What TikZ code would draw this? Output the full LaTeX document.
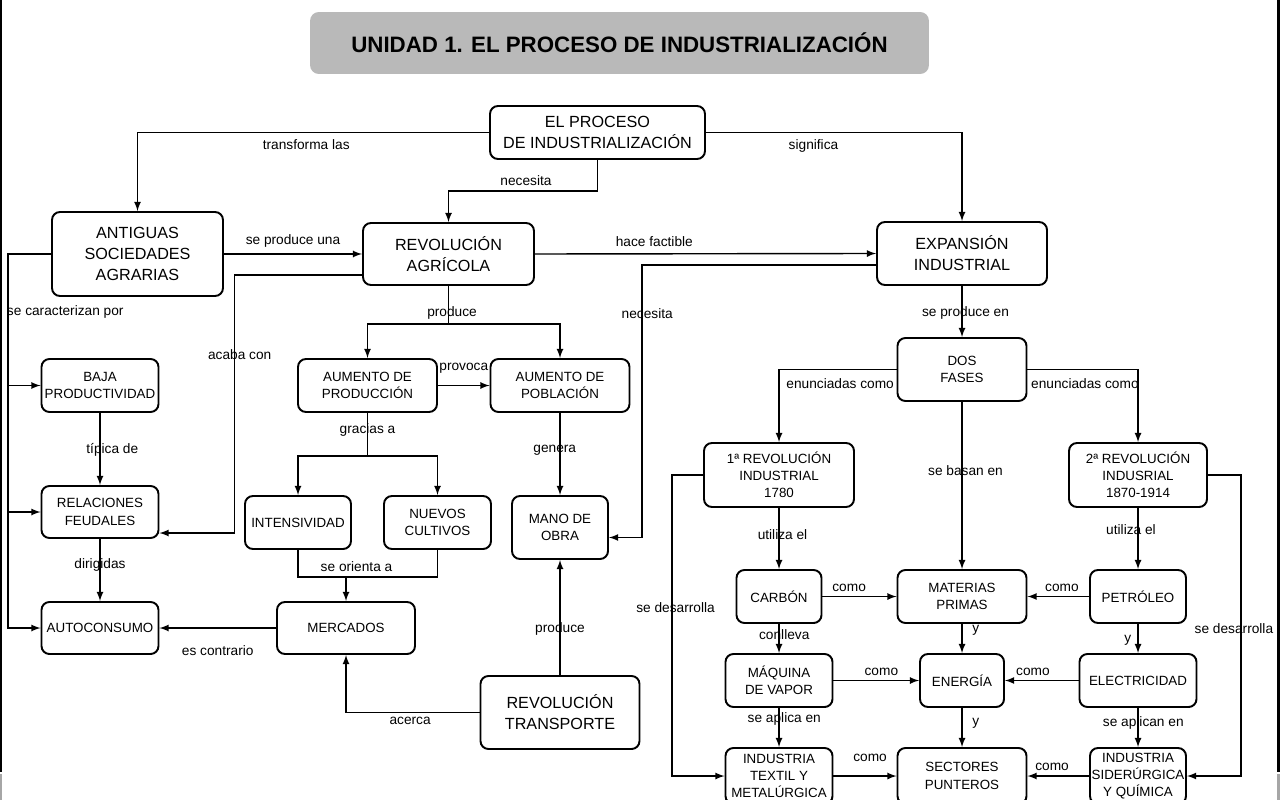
\documentclass[tikz,border=0pt]{standalone}
\usepackage{fontspec}
\setmainfont{Liberation Sans}
\usetikzlibrary{arrows,calc,positioning}
\tikzstyle{titlebar} = [rectangle,rounded corners=5pt,fill=gray!55,font=\bfseries\fontsize{12.7}{15}\selectfont]
\tikzstyle{bigbox} = [rectangle,rounded corners=4.5pt,draw=black,line width=1.1pt,align=center,inner sep=0pt,font=\fontsize{9.2}{11.9}\selectfont]
\tikzstyle{smallbox} = [bigbox,font=\fontsize{7.6}{9.8}\selectfont]
\tikzstyle{linklab} = [font=\fontsize{7.8}{9}\selectfont,inner sep=2.5pt]

\begin{document}
\begin{tikzpicture}[->,>=latex,x=0.02cm,y=-0.02cm,line width=0.8pt]
\useasboundingbox (0,0) rectangle (1280,800);
\clip (0,0) rectangle (1280,800);

\fill[black] (0,0) rectangle (2,772);
\fill[black] (1277,0) rectangle (1280,772);
\fill[gray!70] (0,774) rectangle (2,800);
\fill[gray!70] (1277,774) rectangle (1280,800);

\node (title) [titlebar,minimum width=12.38cm,minimum height=1.24cm] at (619.5,43) {UNIDAD 1. EL PROCESO DE INDUSTRIALIZACIÓN};

\node (proc) [bigbox,minimum width=4.3cm,minimum height=1.06cm] at (597.5,132.5) {EL PROCESO\\DE INDUSTRIALIZACIÓN};
\node (ant) [bigbox,minimum width=3.42cm,minimum height=1.68cm] at (137.5,254) {ANTIGUAS\\SOCIEDADES\\AGRARIAS};
\node (ragr) [bigbox,minimum width=3.42cm,minimum height=1.24cm] at (448.5,254) {REVOLUCIÓN\\AGRÍCOLA};
\node (exp) [bigbox,minimum width=3.4cm,minimum height=1.26cm] at (962,253.5) {EXPANSIÓN\\INDUSTRIAL};

\node (baja) [smallbox,minimum width=2.34cm,minimum height=1.06cm] at (100,385.5) {BAJA\\PRODUCTIVIDAD};
\node (rel) [smallbox,minimum width=2.34cm,minimum height=1.04cm] at (100,512) {RELACIONES\\FEUDALES};
\node (auto) [smallbox,minimum width=2.34cm,minimum height=1.04cm] at (100,628) {AUTOCONSUMO};
\node (aprod) [smallbox,minimum width=2.78cm,minimum height=1.06cm] at (367.5,385.5) {AUMENTO DE\\PRODUCCIÓN};
\node (apob) [smallbox,minimum width=2.78cm,minimum height=1.06cm] at (560,385.5) {AUMENTO DE\\POBLACIÓN};
\node (inten) [smallbox,minimum width=2.12cm,minimum height=1.06cm] at (298,522.5) {INTENSIVIDAD};
\node (nuev) [smallbox,minimum width=2.14cm,minimum height=1.06cm] at (437.5,522.5) {NUEVOS\\CULTIVOS};
\node (mano) [smallbox,minimum width=1.92cm,minimum height=1.26cm] at (560,527.5) {MANO DE\\OBRA};
\node (merc) [smallbox,minimum width=2.76cm,minimum height=1.04cm] at (346,628) {MERCADOS};
\node (rtrans) [bigbox,minimum width=3.18cm,minimum height=1.46cm] at (560,712.5) {REVOLUCIÓN\\TRANSPORTE};

\node (dos) [smallbox,minimum width=2.58cm,minimum height=1.26cm] at (962,369.5) {DOS\\FASES};
\node (rev1) [smallbox,minimum width=3.0cm,minimum height=1.28cm] at (779,475) {1ª REVOLUCIÓN\\INDUSTRIAL\\1780};
\node (rev2) [smallbox,minimum width=2.76cm,minimum height=1.28cm] at (1138,475) {2ª REVOLUCIÓN\\INDUSRIAL\\1870-1914};
\node (carb) [smallbox,minimum width=1.7cm,minimum height=1.06cm] at (779,596.5) {CARBÓN};
\node (mat) [smallbox,minimum width=2.58cm,minimum height=1.06cm] at (962,596.5) {MATERIAS\\PRIMAS};
\node (pet) [smallbox,minimum width=1.92cm,minimum height=1.06cm] at (1138,596.5) {PETRÓLEO};
\node (maq) [smallbox,minimum width=2.14cm,minimum height=1.06cm] at (779,680.5) {MÁQUINA\\DE VAPOR};
\node (ener) [smallbox,minimum width=1.68cm,minimum height=1.06cm] at (962,680.5) {ENERGÍA};
\node (elec) [smallbox,minimum width=2.34cm,minimum height=1.06cm] at (1138,680.5) {ELECTRICIDAD};
\node (ind1) [smallbox,minimum width=2.14cm,minimum height=1.12cm] at (779,776) {INDUSTRIA\\TEXTIL Y\\METALÚRGICA};
\node (sect) [smallbox,minimum width=2.58cm,minimum height=1.12cm] at (962,776) {SECTORES\\PUNTEROS};
\node (ind2) [smallbox,minimum width=1.92cm,minimum height=1.12cm] at (1138,776) {INDUSTRIA\\SIDERÚRGICA\\Y QUÍMICA};

\draw (proc.west) -| node[linklab,below,pos=0.26,yshift=-1pt] (la1) {transforma las} (ant.north);
\draw (proc.east) -| node[linklab,below,pos=0.21,yshift=-1pt] (la2) {significa} (exp.north);
\draw (proc.south) -- ++(0,31) -| node[linklab,above,pos=0.24] (la3) {necesita} (ragr.north);
\draw (ant.east) -- node[linklab,above,yshift=1pt] (la4) {se produce una} (ragr.west);
\draw (ragr.east) -- node[linklab,above,pos=0.35,yshift=1pt] (la5) {hace factible} (exp.west);
\draw ($(exp.west)+(0,11.5)$) -| node[linklab,pos=0.59,xshift=3pt] (la6) {necesita} ($(mano.east)+(33,10)$) -- ($(mano.east)+(0,10)$);
\draw ($(ragr.west)+(0,21)$) -| node[linklab,pos=0.655,xshift=3pt] (la7) {acaba con} ($(rel.east)+(75,21)$) -- ($(rel.east)+(0,21)$);

\draw (ant.west) -- ++(-43,0) coordinate (lbus) |- node[linklab,right,pos=0.078,xshift=-3.5pt] (la8) {se caracterizan por} (auto.west);
\draw (lbus |- baja.west) -- (baja.west);
\draw (lbus |- rel.west) -- (rel.west);
\draw (baja.south) -- node[linklab,pos=0.51,xshift=7pt] (la9) {típica de} (rel.north);
\draw (rel.south) -- node[linklab,pos=0.42] (la10) {dirigidas} (auto.north);

\draw[-] (ragr.south) -- node[linklab,pos=0.72,xshift=2pt] (la11) {produce} ++(0,38) coordinate (pbus);
\draw (pbus) -| (aprod.north);
\draw (pbus) -| (apob.north);
\draw (aprod.east) -- node[linklab,above,yshift=4pt] (la12) {provoca} (apob.west);
\draw (apob.south) -- node[linklab,pos=0.45,xshift=-3pt] (la13) {genera} (mano.north);

\draw[-] (aprod.south) -- node[linklab,pos=0.4] (la14) {gracias a} ++(0,43) coordinate (gbus);
\draw (gbus) -| (inten.north);
\draw (gbus) -| (nuev.north);
\draw[-] (inten.south) -- ++(0,27) coordinate (obus) -| (nuev.south);
\draw (obus -| merc.north) node[linklab,above,xshift=6pt] (la15) {se orienta a} -- (merc.north);
\draw (merc.west) -- node[linklab,below,yshift=-7pt] (la16) {es contrario} (auto.east);
\draw (rtrans.west) -| node[linklab,below,pos=0.26] (la17) {acerca} (merc.south);
\draw (rtrans.north) -- node[linklab,pos=0.4] (la18) {produce} (mano.south);

\draw (exp.south) -- node[linklab,xshift=2pt,yshift=-1pt] (la19) {se produce en} (dos.north);
\draw (dos.west) -| node[linklab,below,pos=0.24,yshift=-2pt] (la20) {enunciadas como} (rev1.north);
\draw (dos.east) -| node[linklab,below,pos=0.26,yshift=-2pt] (la21) {enunciadas como} (rev2.north);
\draw (dos.south) -- node[linklab,pos=0.41,xshift=2pt] (la22) {se basan en} (mat.north);
\draw (rev1.south) -- node[linklab,pos=0.43,xshift=2pt] (la23) {utiliza el} (carb.north);
\draw (rev2.south) -- node[linklab,pos=0.35,xshift=-4pt] (la24) {utiliza el} (pet.north);
\draw (carb.east) -- node[linklab,above,pos=0.36] (la25) {como} (mat.west);
\draw (pet.west) -- node[linklab,above,pos=0.44] (la26) {como} (mat.east);
\draw (carb.south) -- node[linklab,pos=0.35,xshift=3pt] (la27) {conlleva} (maq.north);
\draw (mat.south) -- node[linklab,right,pos=0.23,xshift=3pt] (la28) {y} (ener.north);
\draw (pet.south) -- node[linklab,left,pos=0.55,xshift=-1pt] (la29) {y} (elec.north);
\draw (maq.east) -- node[linklab,above,pos=0.56] (la30) {como} (ener.west);
\draw (elec.west) -- node[linklab,above,pos=0.62] (la31) {como} (ener.east);
\draw (maq.south) -- node[linklab,pos=0.29,xshift=3pt] (la32) {se aplica en} (ind1.north);
\draw (ener.south) -- node[linklab,right,pos=0.4,xshift=3pt] (la33) {y} (sect.north);
\draw (elec.south) -- node[linklab,pos=0.38,xshift=3pt] (la34) {se aplican en} (ind2.north);
\draw (ind1.east) -- node[linklab,above,pos=0.58,yshift=5pt] (la35) {como} (sect.west);
\draw (ind2.west) -- node[linklab,above,pos=0.6] (la36) {como} (sect.east);
\draw (rev1.west) -- ++(-31,0) |- node[linklab,pos=0.22,xshift=2pt] (la37) {se desarrolla} (ind1.west);
\draw (rev2.east) -- ++(33,0) |- node[linklab,pos=0.255,xshift=-4pt] (la38) {se desarrolla} (ind2.east);

\end{tikzpicture}
\end{document}
